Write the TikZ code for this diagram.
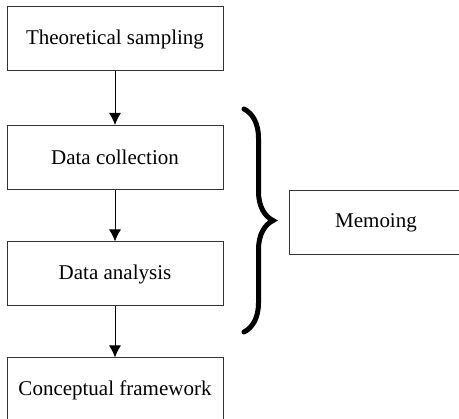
\documentclass[tikz,border=0pt]{standalone}
\usepackage{fontspec}
\setmainfont{Liberation Serif}
\usetikzlibrary{arrows.meta,decorations.pathreplacing}
\tikzset{
	stagebox/.style={draw=black!80, line width=1pt, minimum width=216pt, minimum height=64pt, inner sep=0pt, font=\fontsize{21}{25}\selectfont},
	flow/.style={-{Latex[length=12pt,width=12pt]}, line width=1pt}
}
\begin{document}
\begin{tikzpicture}[x=1pt, y=-1pt]
			\useasboundingbox (0,0) rectangle (459,419);
			\clip (0,0) rectangle (459,419);
			\node[stagebox] (sampling) at (115,39) {Theoretical sampling};
			\node[stagebox] (collection) at (115,157.5) {Data collection};
			\node[stagebox] (analysis) at (115,274) {Data analysis};
			\node[stagebox] (framework) at (115,390) {Conceptual framework};
			\node[stagebox, minimum width=174pt] (memo) at (376,223) {Memoing};
			\draw[flow] (sampling) -- (collection);
			\draw[flow] (collection) -- (analysis);
			\draw[flow] (analysis) -- (framework);
			% brace round collection and analysis
			\draw[line width=5pt, line cap=round, decorate, decoration={brace, amplitude=29pt}] (244,109) -- (244,332);
		\end{tikzpicture}
\end{document}
